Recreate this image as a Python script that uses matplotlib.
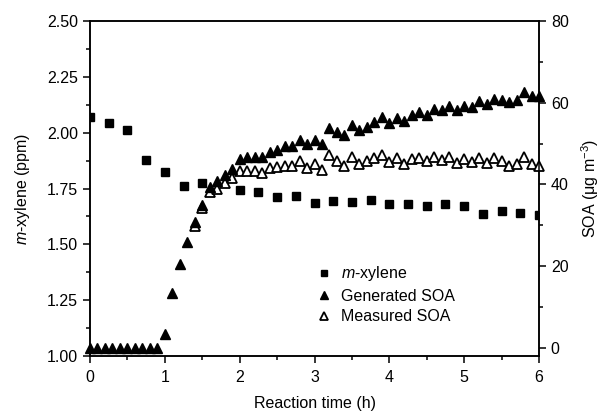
import numpy as np
import matplotlib
matplotlib.use("Agg")
import matplotlib.pyplot as plt
from matplotlib.ticker import MultipleLocator

plt.rcParams["font.family"] = ["Liberation Sans", "DejaVu Sans"]
plt.rcParams["mathtext.fontset"] = "custom"
plt.rcParams["mathtext.rm"] = "Liberation Sans"
plt.rcParams["mathtext.it"] = "Liberation Sans:italic"

# m-xylene concentration (ppm), every 15 min
xylene_t = [0.0, 0.25, 0.5, 0.75, 1.0, 1.25, 1.5, 2.0, 2.25, 2.5, 2.75, 3.0,
            3.25, 3.5, 3.75, 4.0, 4.25, 4.5, 4.75, 5.0, 5.25, 5.5, 5.75, 6.0]
xylene_ppm = [2.07, 2.045, 2.01, 1.878, 1.824, 1.763, 1.776, 1.743, 1.736, 1.710,
              1.716, 1.686, 1.693, 1.688, 1.697, 1.680, 1.679, 1.671, 1.680,
              1.671, 1.637, 1.650, 1.639, 1.633]

# generated SOA (ug m-3), every 6 min
gen_t = np.round(np.arange(0, 61) * 0.1, 1)
gen_soa = [0, 0, 0, 0, 0, 0, 0, 0, 0, 0,
           3.5, 13.4, 20.5, 26.0, 30.7, 35.0, 39.4, 40.8, 42.2, 43.8,
           46.1, 46.6, 46.6, 46.6, 48.0, 48.5, 49.3, 49.3, 50.8, 49.8,
           50.8, 49.8, 53.9, 52.8, 52.2, 54.6, 53.2, 54.1, 55.2, 56.6,
           55.0, 56.2, 55.5, 56.9, 57.7, 57.1, 58.5, 58.1, 59.2, 58.2,
           59.2, 58.9, 60.3, 59.6, 60.8, 60.6, 60.1, 60.6, 62.7, 61.6,
           61.6]

# measured SOA (ug m-3)
meas_t = np.round(np.arange(14, 61) * 0.1, 1)
meas_soa = [29.9, 34.2, 38.1, 38.9, 40.4, 41.5,
            43.4, 43.4, 43.2, 42.7, 44.0, 44.2, 44.6, 44.6, 45.7, 44.0,
            44.9, 43.5, 47.1, 45.7, 44.6, 46.7, 44.9, 45.7, 46.5, 47.3,
            45.4, 46.5, 45.1, 46.1, 46.5, 45.7, 46.7, 45.9, 46.7, 45.3,
            46.1, 45.4, 46.5, 45.3, 46.5, 45.7, 44.6, 44.9, 46.7, 45.1,
            44.6]

fs = 11.5

fig = plt.figure(figsize=(6.04, 4.12), dpi=100)
ax = fig.add_axes([90 / 604, 56 / 412, 449 / 604, 335 / 412])
ax2 = ax.twinx()

lw = 1.1
for a in (ax, ax2):
    for s in a.spines.values():
        s.set_linewidth(lw)

ax.set_xlim(0, 6)
ax.set_ylim(1.0, 2.5)
ax2.set_ylim(-2, 80)

ax.xaxis.set_major_locator(MultipleLocator(1))
ax.xaxis.set_minor_locator(MultipleLocator(0.5))
ax.yaxis.set_major_locator(MultipleLocator(0.25))
ax.yaxis.set_minor_locator(MultipleLocator(0.125))
ax.yaxis.set_major_formatter(matplotlib.ticker.FormatStrFormatter("%.2f"))
ax2.yaxis.set_major_locator(MultipleLocator(20))
ax2.yaxis.set_minor_locator(MultipleLocator(10))

ax.tick_params(which="both", direction="out", width=lw, labelsize=fs, top=False, right=False)
ax.tick_params(which="major", length=5)
ax.tick_params(which="minor", length=3)
ax.tick_params(axis="x", which="major", pad=5)
ax2.tick_params(which="both", direction="out", width=lw, labelsize=fs)
ax2.tick_params(which="major", length=5)
ax2.tick_params(which="minor", length=3)

h1, = ax.plot(xylene_t, xylene_ppm, "s", color="black", ms=6, ls="none",
              label="$m$-xylene", zorder=2)
h3, = ax2.plot(meas_t, meas_soa, "^", mfc="white", mec="black", mew=1.3, ms=7,
               ls="none", label="Measured SOA", zorder=2, clip_on=False)
h2, = ax2.plot(gen_t, gen_soa, "^", color="black", ms=7, ls="none",
               label="Generated SOA", zorder=3, clip_on=False)

ax.set_xlabel("Reaction time (h)", fontsize=fs)
ax.set_ylabel("$m$-xylene (ppm)", fontsize=fs)
ax2.set_ylabel("SOA (\u03bcg m$^{-3}$)", fontsize=fs)
ax.xaxis.set_label_coords(0.5, -0.12)
ax.yaxis.set_label_coords(-0.13, 0.5)
ax2.yaxis.set_label_coords(1.09, 0.5)

ax2.legend([h1, h2, h3], ["$m$-xylene", "Generated SOA", "Measured SOA"],
           loc="center left", bbox_to_anchor=(0.503, 0.184), frameon=False,
           fontsize=fs, handlelength=1.0, handletextpad=0.55, borderpad=0,
           labelspacing=0.35, markerscale=0.8, borderaxespad=0)

fig.savefig("out.png", dpi=100)
